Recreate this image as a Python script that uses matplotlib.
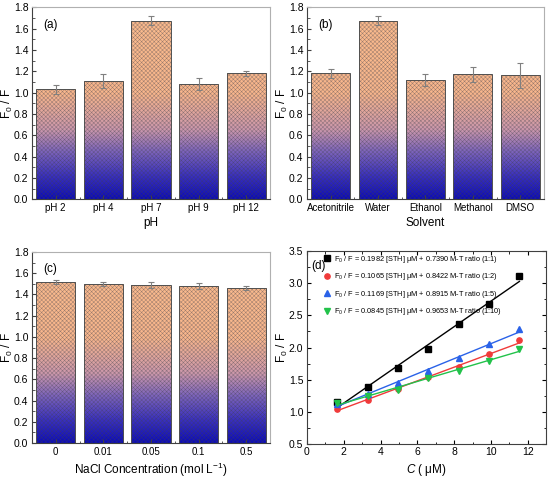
import numpy as np
import matplotlib
matplotlib.use('Agg')
import matplotlib.pyplot as plt
from matplotlib.colors import LinearSegmentedColormap
from matplotlib.ticker import MultipleLocator, FixedLocator

plt.rcParams['font.family'] = ['Liberation Sans', 'DejaVu Sans']
plt.rcParams['mathtext.fontset'] = 'custom'
plt.rcParams['mathtext.rm'] = 'Liberation Sans'
plt.rcParams['mathtext.it'] = 'Liberation Sans:italic'
plt.rcParams['hatch.linewidth'] = 0.35

# (a) pH
ph_labels = ['pH 2', 'pH 4', 'pH 7', 'pH 9', 'pH 12']
ph_vals = [1.03, 1.11, 1.675, 1.08, 1.18]
ph_err = [0.04, 0.065, 0.04, 0.055, 0.025]

# (b) solvent
solv_labels = ['Acetonitrile', 'Water', 'Ethanol', 'Methanol', 'DMSO']
solv_vals = [1.18, 1.675, 1.12, 1.17, 1.16]
solv_err = [0.04, 0.04, 0.055, 0.07, 0.12]

# (c) NaCl
nacl_labels = ['0', '0.01', '0.05', '0.1', '0.5']
nacl_vals = [1.52, 1.50, 1.49, 1.48, 1.46]
nacl_err = [0.02, 0.02, 0.03, 0.025, 0.015]

# (d) Stern-Volmer
conc = [1.65, 3.3, 4.95, 6.6, 8.25, 9.9, 11.55]
r11 = [1.16, 1.38, 1.68, 1.98, 2.36, 2.68, 3.11]
r12 = [1.05, 1.19, 1.35, 1.54, 1.70, 1.90, 2.12]
r15 = [1.12, 1.28, 1.45, 1.63, 1.84, 2.05, 2.29]
r110 = [1.13, 1.25, 1.34, 1.52, 1.63, 1.79, 1.98]
slopes = [0.1982, 0.1065, 0.1169, 0.0845]
intercepts = [0.7390, 0.8422, 0.8915, 0.9653]
ratios = ['1:1', '1:2', '1:5', '1:10']

cmap = LinearSegmentedColormap.from_list('grad', [
    (0.0, '#0c0cb8'), (0.12, '#3a30c0'), (0.25, '#8066bc'),
    (0.36, '#cc98ac'), (0.55, '#f8b68c'), (1.0, '#fbbc8e')])

fig = plt.figure(figsize=(5.5, 4.8), dpi=100)
ax_a = fig.add_axes([0.058, 0.585, 0.433, 0.40])
ax_b = fig.add_axes([0.558, 0.585, 0.431, 0.40])
ax_c = fig.add_axes([0.058, 0.077, 0.433, 0.398])
ax_d = fig.add_axes([0.558, 0.075, 0.435, 0.402])

ylab = r'F$_0$ / F'


def bar_panel(ax, labels, vals, errs, xlabel, tag, tag_y):
    x = np.arange(len(labels))
    bars = ax.bar(x, vals, width=0.82, facecolor='none', edgecolor=(0.25, 0.25, 0.3, 0.5),
                  linewidth=0, hatch='xxxxxxxx', zorder=2)
    ax.bar(x, vals, width=0.82, facecolor='none', edgecolor='#505050',
           linewidth=0.7, zorder=2.5)
    grad = np.linspace(0, 1, 256).reshape(-1, 1)
    for r in bars:
        im = ax.imshow(grad, extent=[r.get_x(), r.get_x() + r.get_width(), 0, 1.8],
                       origin='lower', aspect='auto', cmap=cmap, zorder=1)
        im.set_clip_path(r)
    ax.errorbar(x, vals, yerr=errs, fmt='none', ecolor='#808080', elinewidth=0.8,
                capsize=2.5, capthick=0.8, zorder=3)
    ax.set_xlim(-0.5, len(labels) - 0.5)
    ax.set_ylim(0, 1.8)
    ax.set_xticks(x)
    ax.set_xticklabels(labels)
    ax.xaxis.set_minor_locator(FixedLocator(x[:-1] + 0.5))
    ax.yaxis.set_major_locator(MultipleLocator(0.2))
    ax.yaxis.set_minor_locator(MultipleLocator(0.1))
    ax.set_xlabel(xlabel, fontsize=8.5, labelpad=3)
    ax.set_ylabel(ylab, fontsize=8.5)
    ax.yaxis.set_label_coords(-0.072, 0.5)
    ax.text(0.046, tag_y, tag, transform=ax.transAxes, fontsize=8.5)
    for s in ['left', 'bottom']:
        ax.spines[s].set_color('#404040')
    for s in ['top', 'right']:
        ax.spines[s].set_color('#b0b0b0')
    ax.tick_params(direction='in', labelsize=7, length=3, pad=2.5, color='#404040')
    ax.tick_params(axis='y', labelsize=7.5)
    ax.tick_params(which='minor', direction='in', length=1.8, color='#404040')


bar_panel(ax_a, ph_labels, ph_vals, ph_err, 'pH', '(a)', 0.89)
bar_panel(ax_b, solv_labels, solv_vals, solv_err, 'Solvent', '(b)', 0.89)
bar_panel(ax_c, nacl_labels, nacl_vals, nacl_err, r'NaCl Concentration (mol L$^{-1}$)', '(c)', 0.895)

# (d)
series = [r11, r12, r15, r110]
markers = ['s', 'o', '^', 'v']
colors = ['#000000', '#f03a3a', '#2a62e8', '#22c24a']
xfit = np.array([conc[0], conc[-1]])
for ys, m, c, k, b, rt in zip(series, markers, colors, slopes, intercepts, ratios):
    ax_d.plot(conc, ys, linestyle='none', marker=m, color=c, markersize=3.8,
              label='F$_0$ / F = %.4f [STH] μM + %.4f M-T ratio (%s)' % (k, b, rt))
    ax_d.plot(xfit, k * xfit + b, color=c, linewidth=1.0)
ax_d.set_xlim(0, 13)
ax_d.set_ylim(0.5, 3.5)
ax_d.xaxis.set_major_locator(MultipleLocator(2))
ax_d.xaxis.set_minor_locator(MultipleLocator(1))
ax_d.yaxis.set_major_locator(MultipleLocator(0.5))
ax_d.yaxis.set_minor_locator(MultipleLocator(0.25))
ax_d.tick_params(direction='in', labelsize=7.5, length=3, pad=2.5, top=True, right=True)
ax_d.tick_params(which='minor', direction='in', length=1.8, top=True, right=True)
ax_d.set_xlabel(r'$C$ ( μM)', fontsize=8.5, labelpad=3)
ax_d.set_ylabel(ylab, fontsize=8.5)
ax_d.yaxis.set_label_coords(-0.072, 0.5)
for s in ax_d.spines.values():
    s.set_color('#404040')
ax_d.text(0.02, 0.905, '(d)', transform=ax_d.transAxes, fontsize=8.5)
ax_d.legend(loc='upper left', bbox_to_anchor=(0.05, 1.01), frameon=False,
            fontsize=5.3, handlelength=1.0, handletextpad=0.4, labelspacing=0.9,
            borderaxespad=0.2)

fig.savefig('out.png', dpi=100)
plt.close(fig)
